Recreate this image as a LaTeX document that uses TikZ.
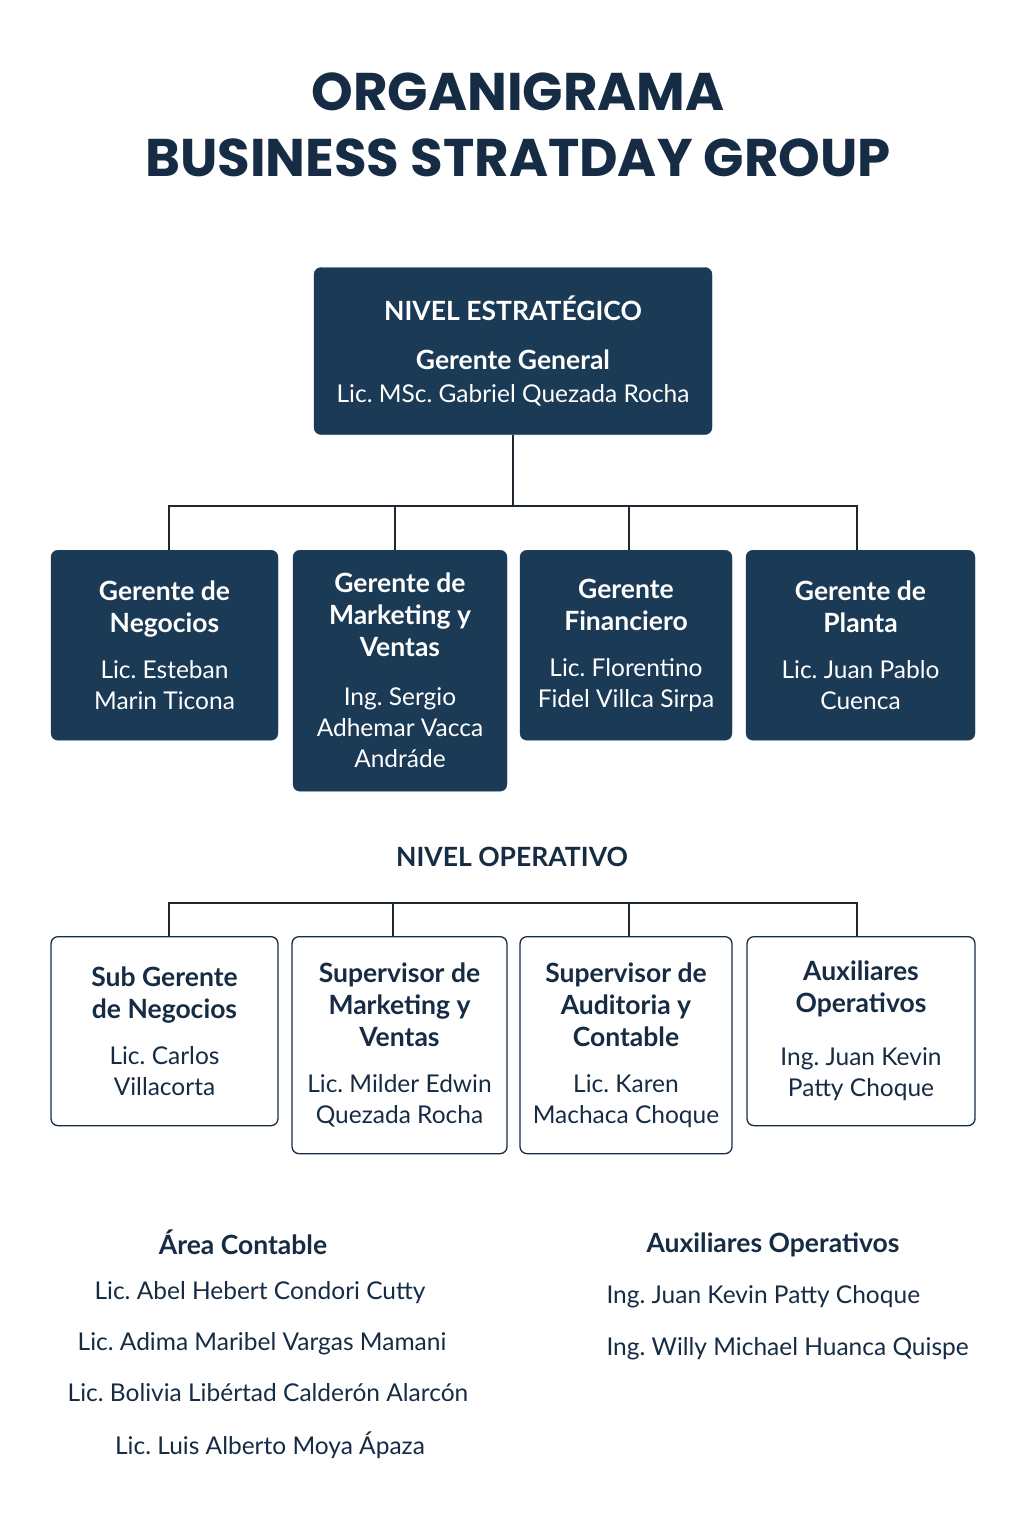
\documentclass[tikz,border=0pt]{standalone}
\usepackage{fontspec}
\setmainfont{Lato}
\newfontfamily\titlefont{Poppins}
\usetikzlibrary{positioning, calc}
\definecolor{navy}{RGB}{27,58,85}
\definecolor{inknavy}{RGB}{22,44,68}
\definecolor{linegray}{RGB}{30,40,50}
\frenchspacing

% fonts for the boxes
\newcommand{\headfont}{\fontsize{26.5}{32}\selectfont\bfseries}
\newcommand{\namefont}{\fontsize{24.5}{31}\selectfont}
\newcommand{\plainspace}{\spaceskip=0pt\xspaceskip=0pt\centering}
\newcommand{\boxhead}[1]{{\plainspace\headfont #1\par}\vspace{15pt}}
\newcommand{\boxname}[1]{{\plainspace\namefont #1\par}}

\tikzset{
  darkbox/.style={draw=navy, fill=navy, rounded corners=7pt, text=white,
    minimum width=#1, text width=#1-8, inner sep=0pt},
  lightbox/.style={draw=inknavy, fill=white, line width=1.3pt, rounded corners=7pt, text=inknavy,
    minimum width=#1, text width=#1-8, inner sep=0pt},
  link/.style={draw=linegray, line width=1.4pt},
}

\begin{document}
\begin{tikzpicture}[x=1pt, y=-1pt]
  \useasboundingbox[fill=white] (0,0) rectangle (1024,1536);

  % Title
  \node[text=inknavy, font=\titlefont\bfseries\fontsize{53}{66}\selectfont, align=center] (title) at (518,125)
    {ORGANIGRAMA\\BUSINESS STRATDAY GROUP};

  % Strategic level
  \node[darkbox=398, minimum height=167] (gg) at (513,351)
    {{\plainspace\headfont NIVEL ESTRATÉGICO\par}\vspace{17pt}{\plainspace\headfont Gerente General\par}\vspace{2pt}\boxname{Lic. MSc. Gabriel Quezada Rocha}};

  % Managers
  \node[darkbox=227, minimum height=190, anchor=north] (gneg) at (164.5,550)
    {\boxhead{Gerente de\\Negocios}\boxname{Lic. Esteban\\Marin Ticona}};
  \node[darkbox=214, minimum height=241, anchor=north] (gmkt) at (400,550)
    {\boxhead{Gerente de\\Marketing y\\Ventas}\vspace{3pt}\boxname{Ing. Sergio\\Adhemar Vacca\\Andráde}};
  \node[darkbox=212, minimum height=190, anchor=north] (gfin) at (626,550)
    {\boxhead{Gerente\\Financiero}\boxname{Lic. Florentino\\Fidel Villca Sirpa}};
  \node[darkbox=229, minimum height=190, anchor=north] (gpla) at (860.5,550)
    {\boxhead{Gerente de\\Planta}\boxname{Lic. Juan Pablo\\Cuenca}};

  \coordinate (bus1) at (513,506);
  \draw[link] (gg) -- (bus1);
  \draw[link] ([xshift=4.5pt]gneg.north) |- (bus1);
  \draw[link] ([xshift=-5pt]gmkt.north) |- (bus1);
  \draw[link] ([xshift=3pt]gfin.north) |- (bus1);
  \draw[link] ([xshift=-3.5pt]gpla.north) |- (bus1);

  % Operative level
  \node[text=inknavy, font=\headfont] (oplabel) at (512,857) {NIVEL OPERATIVO};

  \node[lightbox=227, minimum height=189, anchor=north] (sneg) at (164.5,936)
    {\boxhead{Sub Gerente\\de Negocios}\boxname{Lic. Carlos\\Villacorta}};
  \node[lightbox=215, minimum height=217, anchor=north] (smkt) at (399.5,936)
    {\boxhead{Supervisor de\\Marketing y\\Ventas}\boxname{Lic. Milder Edwin\\Quezada Rocha}};
  \node[lightbox=212, minimum height=217, anchor=north] (saud) at (626,936)
    {\boxhead{Supervisor de\\Auditoria y\\Contable}\boxname{Lic. Karen\\Machaca Choque}};
  \node[lightbox=228, minimum height=189, anchor=north] (saux) at (861,936)
    {\boxhead{Auxiliares\\Operativos}\vspace{7pt}\boxname{Ing. Juan Kevin\\Patty Choque}};

  \coordinate (bus2) at (513,903);
  \draw[link] ([xshift=4.5pt]sneg.north) |- (bus2);
  \draw[link] ([xshift=-6.5pt]smkt.north) |- (bus2);
  \draw[link] ([xshift=3pt]saud.north) |- (bus2);
  \draw[link] ([xshift=-4pt]saux.north) |- (bus2);

  % Staff lists
  \node[text=inknavy, font=\headfont] (acont) at (243,1242) {Área Contable};
  \node[text=inknavy, font=\namefont] (ac1) at (260,1293) {Lic. Abel Hebert Condori Cutty};
  \node[text=inknavy, font=\namefont] (ac2) at (262,1344) {Lic. Adima Maribel Vargas Mamani};
  \node[text=inknavy, font=\namefont] (ac3) at (268,1393) {Lic. Bolivia Libértad Calderón Alarcón};
  \node[text=inknavy, font=\namefont] (ac4) at (270,1445) {Lic. Luis Alberto Moya Ápaza};

  \node[text=inknavy, font=\headfont] (aop) at (773,1245) {Auxiliares Operativos};
  \node[text=inknavy, font=\namefont, anchor=west] (ao1) at (603,1297) {Ing. Juan Kevin Patty Choque};
  \node[text=inknavy, font=\namefont, anchor=west] (ao2) at (603,1349) {Ing. Willy Michael Huanca Quispe};
\end{tikzpicture}
\end{document}
